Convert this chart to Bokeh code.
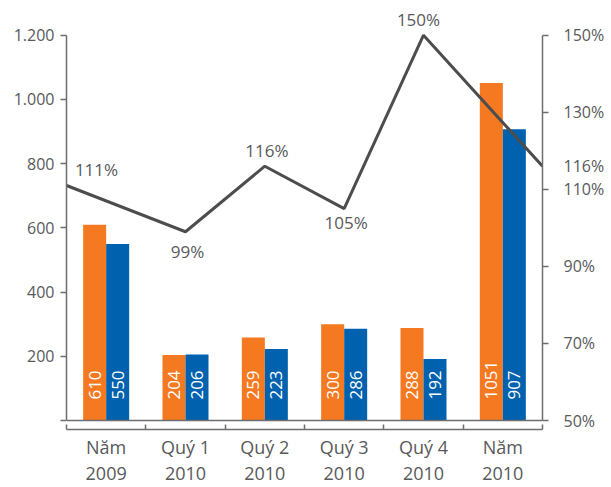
import numpy as np
from bokeh.plotting import figure
from bokeh.models import Range1d, LinearAxis, FixedTicker, Span, Label
from bokeh.embed import file_html
from bokeh.resources import INLINE
from bokeh.core.properties import value

# --- data -------------------------------------------------------------
categories = ["Năm\n2009", "Quý 1\n2010", "Quý 2\n2010", "Quý 3\n2010", "Quý 4\n2010", "Năm\n2010"]
orange_vals = [610, 204, 259, 300, 288, 1051]
blue_vals = [550, 206, 223, 286, 192, 907]

ratio_x = [0, 1.5, 2.5, 3.5, 4.5, 6]          # positions along the category axis
ratio_vals = [111, 99, 116, 105, 150, 116]     # percent

left_ticks = [0, 200, 400, 600, 800, 1000, 1200]
left_tick_labels = ["", "200", "400", "600", "800", "1.000", "1.200"]
right_ticks = [50, 70, 90, 110, 130, 150]
right_tick_labels = ["50%", "70%", "90%", "110%", "130%", "150%"]

# --- styling ----------------------------------------------------------
FONT = "Open Sans"
TXT = "#58595b"
AX = "#6d6e71"
ORANGE = "#f47920"
BLUE = "#0061ae"
LINE = "#4d4d4d"

# label placement for the ratio line (screen px, up is positive)
ratio_dx = [30, 2, 2, 2, -5]
ratio_dy = [16, -20, 16, -14, 16]

pad_bottom = 27.8   # value units between the zero line and the category axis
pad_top = 108.0     # value units of head room above 1.200
pct_per_unit = (150 - 50) / 1200

p = figure(width=611, height=487, output_backend="svg", toolbar_location=None,
           x_range=Range1d(0, 6), y_range=Range1d(-pad_bottom, 1200 + pad_top),
           x_axis_type=None, y_axis_type=None,
           min_border_left=66, min_border_right=69, min_border_top=0, min_border_bottom=54)
p.outline_line_color = None
p.background_fill_color = "white"
p.border_fill_color = "white"
p.extra_y_ranges = {"pct": Range1d(50 - pad_bottom * pct_per_unit, 150 + pad_top * pct_per_unit)}

# left value axis
ya = LinearAxis(ticker=FixedTicker(ticks=left_ticks), bounds=(0, 1200),
                major_label_overrides={t: l for t, l in zip(left_ticks, left_tick_labels)},
                axis_line_color=AX, axis_line_width=1.5,
                major_tick_in=0, major_tick_out=6, major_tick_line_color=AX, major_tick_line_width=1.5,
                minor_tick_line_color=None,
                major_label_text_font=FONT, major_label_text_font_size="16px",
                major_label_text_color=TXT, major_label_standoff=6)
p.add_layout(ya, "left")

# right percent axis; the last ratio value is labelled at the axis itself
end_val = ratio_vals[-1]
r_labels = {t: l for t, l in zip(right_ticks, right_tick_labels)}
r_labels[end_val] = f"{end_val}%"
ra = LinearAxis(y_range_name="pct",
                ticker=FixedTicker(ticks=sorted(set(right_ticks + [end_val])), minor_ticks=right_ticks),
                bounds=(50, 150),
                major_label_overrides=r_labels,
                axis_line_color=AX, axis_line_width=1.5,
                major_tick_line_color=None,
                minor_tick_in=0, minor_tick_out=6, minor_tick_line_color=AX, minor_tick_line_width=1.5,
                major_label_text_font=FONT, major_label_text_font_size="16px",
                major_label_text_color=TXT, major_label_standoff=15)
p.add_layout(ra, "right")

# category axis: labels at centres, short ticks at the boundaries
centers = list(np.arange(len(categories)) + 0.5)
bounds_ticks = list(range(len(categories) + 1))
xa = LinearAxis(ticker=FixedTicker(ticks=centers, minor_ticks=bounds_ticks),
                major_label_overrides={float(c): lab for c, lab in zip(centers, categories)},
                axis_line_color=AX, axis_line_width=1.5,
                major_tick_in=0, major_tick_out=0,
                minor_tick_in=5, minor_tick_out=0, minor_tick_line_color=AX, minor_tick_line_width=1.5,
                major_label_text_font=FONT, major_label_text_font_size="18px",
                major_label_text_color=TXT, major_label_standoff=5,
                major_label_text_line_height=1.1)
p.add_layout(xa, "below")

# zero line
p.add_layout(Span(location=0, dimension="width", line_color=AX, line_width=1.5))

# bars
bar_w = 0.29
idx = np.arange(len(categories)) + 0.5
x_or = idx - bar_w / 2
x_bl = idx + bar_w / 2
p.vbar(x=x_or, top=orange_vals, width=bar_w, bottom=0, fill_color=ORANGE, line_color=None)
p.vbar(x=x_bl, top=blue_vals, width=bar_w, bottom=0, fill_color=BLUE, line_color=None)

# values written inside the bars, reading upward
for xs, vals in ((x_or, orange_vals), (x_bl, blue_vals)):
    p.text(x=xs, y=[0] * len(vals), text=[str(v) for v in vals], angle=np.pi / 2,
           y_offset=-21, text_align="left", text_baseline="middle",
           text_color="white", text_font=value(FONT), text_font_size="17px")

# ratio line
p.line(ratio_x, ratio_vals, y_range_name="pct", line_color=LINE, line_width=3)

for x, v, dx, dy in zip(ratio_x[:-1], ratio_vals[:-1], ratio_dx, ratio_dy):
    p.add_layout(Label(x=x, y=v, text=f"{v}%", x_offset=dx, y_offset=dy, y_range_name="pct",
                       text_align="center", text_baseline="middle",
                       text_font=FONT, text_font_size="17px", text_color=TXT))

open("out.html", "w").write(file_html(p, INLINE))
